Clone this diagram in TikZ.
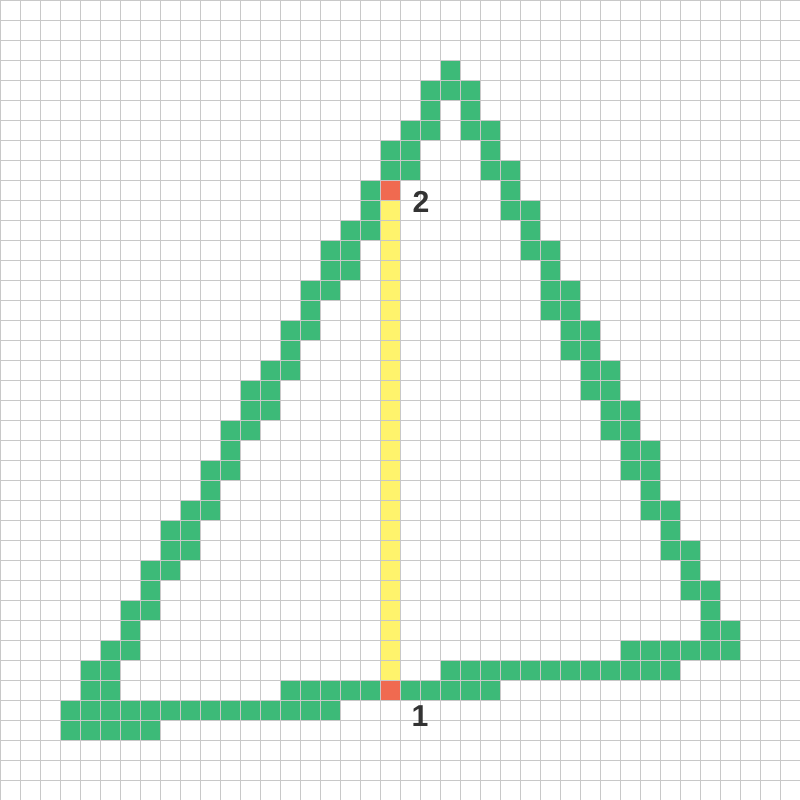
\documentclass[tikz,border=0pt]{standalone}
\usepackage{fontspec}
\setmainfont{Liberation Sans}
\definecolor{cellgreen}{RGB}{61,186,120}
\definecolor{cellyellow}{RGB}{255,243,108}
\definecolor{cellred}{RGB}{240,106,80}
\definecolor{gridgray}{RGB}{200,200,200}
\definecolor{labelgray}{RGB}{51,51,51}
\tikzset{
  gcell/.style={fill=cellgreen},
  ycell/.style={fill=cellyellow},
  rcell/.style={fill=cellred},
  gridline/.style={draw=gridgray,line width=0.7pt},
  lbl/.style={font=\fontsize{21.5}{24}\selectfont\bfseries,text=labelgray,inner sep=0pt,anchor=center}
}
\begin{document}
\begin{tikzpicture}[x=0.5cm,y=-0.5cm]
\useasboundingbox (0,0) rectangle (40,40);
\fill[white] (0,0) rectangle (40,40);
% green cells
\foreach \r/\cs in {
 3/{22},
 4/{21,22,23},
 5/{21,23},
 6/{20,21,23,24},
 7/{19,20,24},
 8/{19,20,24,25},
 9/{18,25},
 10/{18,25,26},
 11/{17,18,26},
 12/{16,17,26,27},
 13/{16,17,27},
 14/{15,16,27,28},
 15/{15,27,28},
 16/{14,15,28,29},
 17/{14,28,29},
 18/{13,14,29,30},
 19/{12,13,29,30},
 20/{12,13,30,31},
 21/{11,12,30,31},
 22/{11,31,32},
 23/{10,11,31,32},
 24/{10,32},
 25/{9,10,32,33},
 26/{8,9,33},
 27/{8,9,33,34},
 28/{7,8,34},
 29/{7,34,35},
 30/{6,7,35},
 31/{6,35,36},
 32/{5,6,31,32,33,34,35,36},
 33/{4,5,22,23,24,25,26,27,28,29,30,31,32,33},
 34/{4,5,14,15,16,17,18,20,21,22,23,24},
 35/{3,4,5,6,7,8,9,10,11,12,13,14,15,16},
 36/{3,4,5,6,7}}
 {\foreach \c in \cs {\fill[gcell] (\c,\r) rectangle ++(1,1);}}
% yellow column
\foreach \r in {10,...,33} {\fill[ycell] (19,\r) rectangle ++(1,1);}
% red end cells
\fill[rcell] (19,9) rectangle ++(1,1);
\fill[rcell] (19,34) rectangle ++(1,1);
% grid
\foreach \i in {0,...,40} {
  \draw[gridline] (\i,0) -- (\i,40);
  \draw[gridline] (0,\i) -- (40,\i);
}
% labels
\node[lbl] (two) at (21.05,10.12) {2};
\node[lbl] (one) at (21.0,35.78) {1};
\end{tikzpicture}
\end{document}
